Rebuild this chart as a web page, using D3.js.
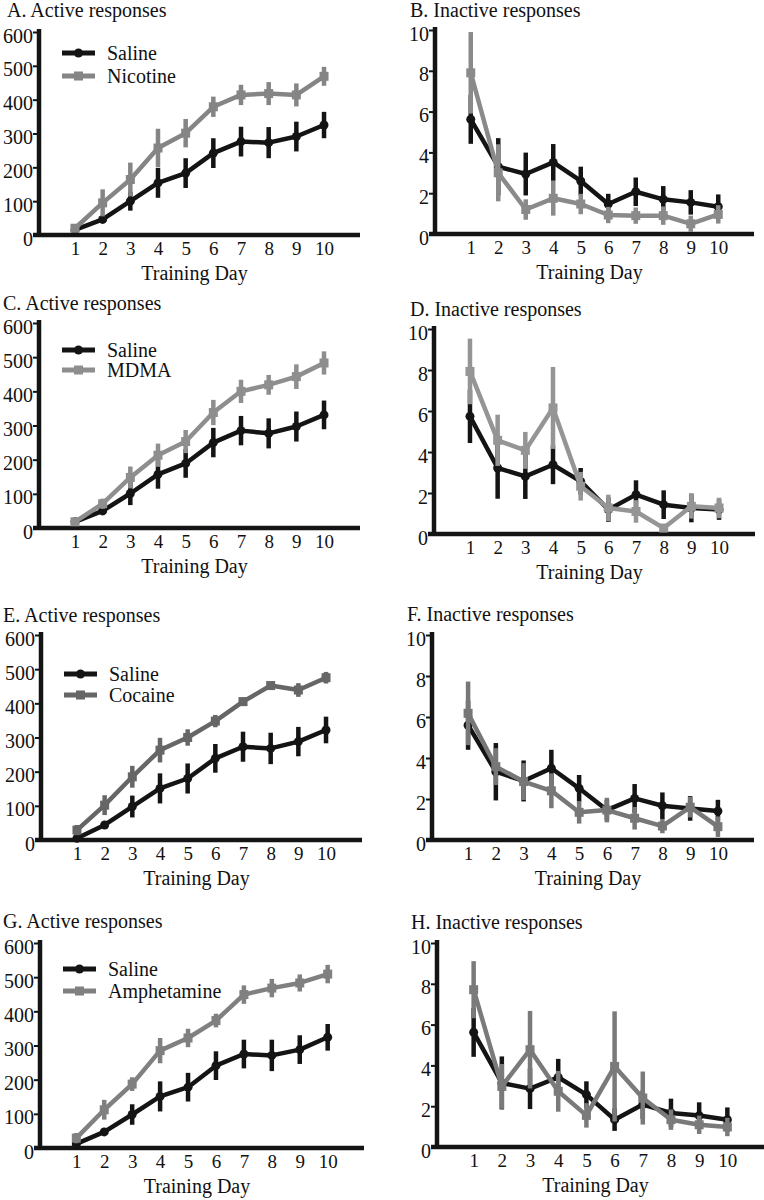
<!DOCTYPE html>
<html>

<head>
    <meta charset="UTF-8">
    <style>
        body { margin: 0; background: #fff; }
        svg { display: block; }
        text { font-family: "Liberation Serif", "Times New Roman", serif; fill: #111; }
    </style>
</head>

<body>
    <svg></svg>
    <script src="https://d3js.org/d3.v7.min.js"></script>

    <script>

        let width = 764, height = 1200;

        // data (mean and error per training day)
        const days = [1, 2, 3, 4, 5, 6, 7, 8, 9, 10];
        const activeTicks = [0, 100, 200, 300, 400, 500, 600];
        const inactiveTicks = [0, 2, 4, 6, 8, 10];

        const salActA = [15, 46, 100, 154, 183, 242, 276, 273, 291, 325];
        const salActAErr = [6, 10, 28, 44, 44, 44, 44, 46, 44, 39];
        const nicAct = [20, 95, 164, 257, 301, 379, 414, 418, 414, 469];
        const nicActErr = [8, 40, 50, 57, 42, 30, 30, 34, 34, 28];

        const salInB = [5.62, 3.3, 2.94, 3.51, 2.6, 1.47, 2.07, 1.7, 1.55, 1.34];
        const salInBErr = [1.2, 1.4, 1.05, 0.9, 0.7, 0.5, 0.7, 0.65, 0.6, 0.6];
        const nicIn = [7.9, 3.0, 1.2, 1.75, 1.47, 0.93, 0.9, 0.9, 0.5, 0.96];
        const nicInErr = [2.0, 1.4, 0.5, 0.85, 0.5, 0.4, 0.4, 0.45, 0.4, 0.45];

        const salActC = [18, 50, 101, 157, 189, 250, 285, 277, 297, 331];
        const salActCErr = [6, 10, 34, 42, 42, 43, 43, 44, 44, 42];
        const mdmaAct = [18, 71, 148, 213, 253, 338, 400, 419, 443, 483];
        const mdmaActErr = [6, 15, 32, 34, 34, 37, 34, 29, 36, 34];

        const salInD = [5.74, 3.22, 2.81, 3.38, 2.57, 1.19, 1.92, 1.43, 1.27, 1.19];
        const salInDErr = [1.3, 1.5, 1.1, 0.95, 0.65, 0.6, 0.7, 0.7, 0.7, 0.5];
        const mdmaIn = [7.93, 4.57, 4.08, 6.15, 2.33, 1.27, 1.1, 0.29, 1.35, 1.27];
        const mdmaInErr = [1.6, 1.25, 0.9, 2.0, 0.7, 0.65, 0.55, 0.2, 0.6, 0.5];

        const salActE = [5, 44, 98, 151, 180, 239, 273, 268, 288, 322];
        const salActEErr = [5, 8, 32, 44, 44, 42, 44, 46, 43, 39];
        const cocAct = [29, 102, 185, 263, 300, 348, 405, 452, 439, 475];
        const cocActErr = [15, 29, 32, 36, 24, 18, 12, 10, 20, 17];

        const salInF = [5.6, 3.33, 2.88, 3.5, 2.52, 1.46, 2.03, 1.67, 1.54, 1.41];
        const salInFErr = [1.2, 1.4, 1.0, 0.9, 0.65, 0.5, 0.7, 0.65, 0.6, 0.55];
        const cocIn = [6.18, 3.58, 2.85, 2.4, 1.35, 1.46, 1.06, 0.68, 1.6, 0.65];
        const cocInErr = [1.55, 0.9, 0.9, 0.85, 0.55, 0.6, 0.55, 0.35, 0.5, 0.5];

        const salActG = [12, 47, 98, 151, 178, 241, 275, 271, 288, 324];
        const salActGErr = [5, 8, 30, 44, 42, 42, 42, 46, 42, 39];
        const ampAct = [29, 112, 187, 285, 322, 373, 449, 468, 483, 509];
        const ampActErr = [15, 29, 20, 37, 27, 20, 27, 27, 25, 27];

        const salInH = [5.62, 3.14, 2.86, 3.42, 2.57, 1.34, 2.08, 1.67, 1.54, 1.34];
        const salInHErr = [1.2, 1.3, 1.0, 0.9, 0.65, 0.55, 0.7, 0.7, 0.65, 0.6];
        const ampIn = [7.71, 2.97, 4.77, 2.73, 1.55, 3.95, 2.4, 1.34, 1.09, 0.98];
        const ampInErr = [1.4, 1.1, 1.9, 1.0, 0.6, 2.7, 1.3, 0.5, 0.45, 0.45];

        const panels = [
            { title: "A. Active responses", drug: "Nicotine", sal: salActA, salE: salActAErr, drg: nicAct, drgE: nicActErr, active: true },
            { title: "B. Inactive responses", drug: "Nicotine", sal: salInB, salE: salInBErr, drg: nicIn, drgE: nicInErr, active: false },
            { title: "C. Active responses", drug: "MDMA", sal: salActC, salE: salActCErr, drg: mdmaAct, drgE: mdmaActErr, active: true },
            { title: "D. Inactive responses", drug: "MDMA", sal: salInD, salE: salInDErr, drg: mdmaIn, drgE: mdmaInErr, active: false },
            { title: "E. Active responses", drug: "Cocaine", sal: salActE, salE: salActEErr, drg: cocAct, drgE: cocActErr, active: true },
            { title: "F. Inactive responses", drug: "Cocaine", sal: salInF, salE: salInFErr, drg: cocIn, drgE: cocInErr, active: false },
            { title: "G. Active responses", drug: "Amphetamine", sal: salActG, salE: salActGErr, drg: ampAct, drgE: ampActErr, active: true },
            { title: "H. Inactive responses", drug: "Amphetamine", sal: salInH, salE: salInHErr, drg: ampIn, drgE: ampInErr, active: false }
        ];

        // placement of each panel on the page
        const layout = [
            { ax: 39, top: 32, bottom: 235, len: 321, titleX: 7, titleY: 17, legendY: 53, gap: 23, color: "#858585" },
            { ax: 435, top: 30, bottom: 234, len: 319, titleX: 410, titleY: 17, color: "#8a8a8a" },
            { ax: 39, top: 323, bottom: 528, len: 321, titleX: 3, titleY: 310, legendY: 350, gap: 20, color: "#8e8e8e" },
            { ax: 434, top: 329, bottom: 534, len: 321, titleX: 410, titleY: 316, color: "#959595" },
            { ax: 41, top: 635, bottom: 840, len: 321, titleX: 3, titleY: 622, legendY: 674, gap: 21, color: "#666666" },
            { ax: 432, top: 635, bottom: 840, len: 322, titleX: 407, titleY: 621, color: "#777777" },
            { ax: 40, top: 943, bottom: 1148, len: 324, titleX: 3, titleY: 928, legendY: 969, gap: 22, color: "#808080" },
            { ax: 437, top: 943, bottom: 1147, len: 327, titleX: 411, titleY: 929, color: "#7a7a7a" }
        ];

        const black = "#141414";

        let svg = d3.select("svg")
            .attr("width", width)
            .attr("height", height)
            .attr("viewBox", "0 0 " + width + " " + height);

        panels.forEach((p, i) => {
            let L = layout[i];
            let g = svg.append("g");

            let x = d3.scaleLinear().domain([-0.3, 11.3]).range([L.ax, L.ax + L.len]);
            let y = d3.scaleLinear()
                .domain(p.active ? [0, 600] : [0, 10])
                .range([L.bottom, L.top]);

            // title
            g.append("text")
                .attr("x", L.titleX)
                .attr("y", L.titleY)
                .style("font-size", "20px")
                .text(p.title);

            // y axis ticks + labels
            let yAxis = g.append("g")
                .attr("transform", "translate(" + L.ax + ",0)")
                .call(d3.axisLeft(y)
                    .tickValues(p.active ? activeTicks : inactiveTicks)
                    .tickSize(6)
                    .tickPadding(0));
            yAxis.select(".domain").remove();
            yAxis.selectAll(".tick line").attr("stroke", black).attr("stroke-width", 2);
            yAxis.selectAll("text")
                .attr("dy", "0.5em")
                .style("font-size", "20px")
                .style("font-family", "Liberation Serif")
                .attr("fill", black);

            // x axis labels
            let xAxis = g.append("g")
                .attr("transform", "translate(0," + L.bottom + ")")
                .call(d3.axisBottom(x).tickValues(days).tickSize(0).tickPadding(7));
            xAxis.select(".domain").remove();
            xAxis.selectAll("text")
                .style("font-size", "19px")
                .style("font-family", "Liberation Serif")
                .attr("fill", black);

            // thick axis lines
            g.append("line")
                .attr("x1", L.ax).attr("x2", L.ax)
                .attr("y1", L.top - 3).attr("y2", L.bottom + 2)
                .attr("stroke", black).attr("stroke-width", 4.5);
            g.append("line")
                .attr("x1", L.ax - 6).attr("x2", L.ax + L.len)
                .attr("y1", L.bottom).attr("y2", L.bottom)
                .attr("stroke", black).attr("stroke-width", 4.5);

            g.append("text")
                .attr("x", x(5.5) - 5)
                .attr("y", L.bottom + 45)
                .attr("text-anchor", "middle")
                .style("font-size", "20px")
                .text("Training Day");

            let line = d3.line().x((d, k) => x(days[k])).y(d => y(d));

            let series = [
                { m: p.sal, e: p.salE, color: black, shape: "circle" },
                { m: p.drg, e: p.drgE, color: L.color, shape: "square" }
            ];

            series.forEach(s => {
                let sg = g.append("g");
                sg.selectAll("line.err")
                    .data(s.m)
                    .enter()
                    .append("line")
                    .attr("class", "err")
                    .attr("x1", (d, k) => x(days[k]))
                    .attr("x2", (d, k) => x(days[k]))
                    .attr("y1", (d, k) => y(Math.max(0, d - s.e[k])))
                    .attr("y2", (d, k) => y(d + s.e[k]))
                    .attr("stroke", s.color)
                    .attr("stroke-width", 4.5);
                sg.append("path")
                    .datum(s.m)
                    .attr("d", line)
                    .attr("fill", "none")
                    .attr("stroke", s.color)
                    .attr("stroke-width", 4.5)
                    .attr("stroke-linejoin", "round");
                if (s.shape == "circle") {
                    sg.selectAll("circle")
                        .data(s.m)
                        .enter()
                        .append("circle")
                        .attr("cx", (d, k) => x(days[k]))
                        .attr("cy", d => y(d))
                        .attr("r", 4.5)
                        .attr("fill", s.color);
                } else {
                    sg.selectAll("rect")
                        .data(s.m)
                        .enter()
                        .append("rect")
                        .attr("x", (d, k) => x(days[k]) - 4.5)
                        .attr("y", d => y(d) - 4.5)
                        .attr("width", 9)
                        .attr("height", 9)
                        .attr("fill", s.color);
                }
            });

            // legend on active panels
            if (p.active) {
                let items = [
                    { name: "Saline", color: black, shape: "circle" },
                    { name: p.drug, color: L.color, shape: "square" }
                ];
                items.forEach((it, k) => {
                    let ly = L.legendY + k * L.gap;
                    g.append("line")
                        .attr("x1", L.ax + 23).attr("x2", L.ax + 56)
                        .attr("y1", ly).attr("y2", ly)
                        .attr("stroke", it.color).attr("stroke-width", 5);
                    if (it.shape == "circle") {
                        g.append("circle")
                            .attr("cx", L.ax + 39.5).attr("cy", ly).attr("r", 4.5)
                            .attr("fill", it.color);
                    } else {
                        g.append("rect")
                            .attr("x", L.ax + 35).attr("y", ly - 4.5)
                            .attr("width", 9).attr("height", 9)
                            .attr("fill", it.color);
                    }
                    g.append("text")
                        .attr("x", L.ax + 68)
                        .attr("y", ly + 7)
                        .style("font-size", "20px")
                        .text(it.name);
                });
            }
        });

    </script>
</body>

</html>
